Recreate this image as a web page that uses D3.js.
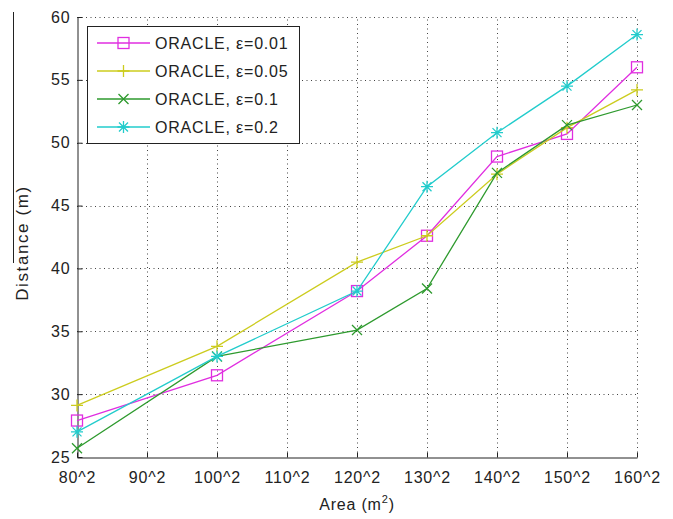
<!DOCTYPE html>
<html>
<head>
  <meta charset="UTF-8">
  <title>Distance vs Area</title>
  <script src="https://cdn.jsdelivr.net/npm/d3@7"></script>
  <style>
    body { margin: 0; background: #fff; }
    svg text { font-family: "Liberation Sans", Arial, sans-serif; fill: #222; letter-spacing: 0.8px; }
  </style>
</head>
<body>
  <div id="chart"></div>
  <script>
  // ---------------------------------------------------
  // data
  // ---------------------------------------------------
  var categories = ["80^2", "90^2", "100^2", "110^2", "120^2", "130^2", "140^2", "150^2", "160^2"];
  var sampled = ["80^2", "100^2", "120^2", "130^2", "140^2", "150^2", "160^2"];
  var yTicks = [25, 30, 35, 40, 45, 50, 55, 60];

  var eps001 = [27.9, 31.5, 38.2, 42.6, 48.9, 50.7, 56.0];
  var eps005 = [29.1, 33.8, 40.5, 42.6, 47.5, 51.2, 54.2];
  var eps01  = [25.7, 33.0, 35.1, 38.4, 47.6, 51.4, 53.0];
  var eps02  = [27.0, 33.0, 38.2, 46.5, 50.8, 54.5, 58.6];

  var series = [
    { name: "ORACLE, \u03b5=0.01", values: eps001, color: "#e02ee0", marker: "square" },
    { name: "ORACLE, \u03b5=0.05", values: eps005, color: "#cccc1e", marker: "plus" },
    { name: "ORACLE, \u03b5=0.1",  values: eps01,  color: "#2e9a2e", marker: "cross" },
    { name: "ORACLE, \u03b5=0.2",  values: eps02,  color: "#22cccc", marker: "star" }
  ];

  // ---------------------------------------------------
  // setup
  // ---------------------------------------------------
  var W = 673, H = 519;
  var plotL = 77, plotR = 637, plotT = 17, plotB = 457;

  var svg = d3.select("#chart").append("svg")
    .attr("width", W).attr("height", H);

  var x = d3.scalePoint().domain(categories).range([plotL, plotR]);
  var y = d3.scaleLinear().domain([25, 60]).range([plotB, plotT]);

  // grid
  var grid = svg.append("g").attr("stroke", "#444").attr("stroke-width", 1)
    .attr("stroke-dasharray", "1,3.5");
  grid.selectAll(".gx").data(categories.slice(1)).enter().append("line")
    .attr("x1", function (d) { return Math.round(x(d)) + 0.5; })
    .attr("x2", function (d) { return Math.round(x(d)) + 0.5; })
    .attr("y1", plotB).attr("y2", plotT);
  grid.selectAll(".gy").data(yTicks.slice(1)).enter().append("line")
    .attr("x1", plotL).attr("x2", plotR)
    .attr("y1", function (d) { return Math.round(y(d)) + 0.5; })
    .attr("y2", function (d) { return Math.round(y(d)) + 0.5; });

  // axes (ticks pointing inward)
  var xAxis = d3.axisBottom(x).tickSizeInner(-5).tickSizeOuter(0).tickPadding(14);
  var gx = svg.append("g").attr("transform", "translate(0," + (plotB + 0.5) + ")").call(xAxis);
  gx.select(".domain").attr("stroke", "#222");
  gx.selectAll(".tick line").attr("stroke", "#222");
  gx.selectAll("text").attr("font-size", 16).attr("fill", "#222");

  var yAxis = d3.axisLeft(y).tickValues(yTicks).tickSizeInner(-5).tickSizeOuter(0).tickPadding(7);
  var gy = svg.append("g").attr("transform", "translate(" + (plotL + 0.5) + ",0)").call(yAxis);
  gy.select(".domain").attr("stroke", "#222");
  gy.selectAll(".tick line").attr("stroke", "#222");
  gy.selectAll("text").attr("font-size", 16).attr("fill", "#222");

  // axis titles
  var xt = svg.append("text").attr("x", (plotL + plotR) / 2).attr("y", 510)
    .attr("text-anchor", "middle").attr("font-size", 16);
  xt.append("tspan").text("Area (m");
  xt.append("tspan").attr("dy", -7).attr("font-size", 11).text("2");
  xt.append("tspan").attr("dy", 7).text(")");

  svg.append("text")
    .attr("transform", "translate(28,243) rotate(-90)")
    .attr("text-anchor", "middle").attr("font-size", 17)
    .style("letter-spacing", "1.6px")
    .text("Distance (m)");

  // stray line at the far left
  svg.append("line").attr("x1", 13.5).attr("x2", 13.5).attr("y1", 12).attr("y2", 263)
    .attr("stroke", "#222");

  // ---------------------------------------------------
  // markers
  // ---------------------------------------------------
  function drawMarker(g, type, cx, cy, color) {
    var m = g.append("g").attr("transform", "translate(" + cx + "," + cy + ")")
      .attr("stroke", color).attr("fill", "none").attr("stroke-width", 1.3);
    if (type === "square") {
      m.append("rect").attr("x", -5.5).attr("y", -5.5).attr("width", 11).attr("height", 11);
    } else if (type === "plus") {
      m.append("path").attr("d", "M-6,0H6M0,-6V6");
    } else if (type === "cross") {
      m.append("path").attr("d", "M-5,-5L5,5M-5,5L5,-5");
    } else {
      m.append("path").attr("d", "M-6,0H6M0,-6V6M-4.5,-4.5L4.5,4.5M-4.5,4.5L4.5,-4.5");
    }
  }

  var line = d3.line()
    .x(function (d, i) { return x(sampled[i]); })
    .y(function (d) { return y(d); });

  series.forEach(function (s) {
    svg.append("path").datum(s.values)
      .attr("d", line).attr("fill", "none")
      .attr("stroke", s.color).attr("stroke-width", 1.3);
    var mg = svg.append("g");
    s.values.forEach(function (v, i) {
      drawMarker(mg, s.marker, x(sampled[i]), y(v), s.color);
    });
  });

  // ---------------------------------------------------
  // legend
  // ---------------------------------------------------
  var lg = svg.append("g");
  lg.append("rect").attr("x", 87.5).attr("y", 26.5).attr("width", 212).attr("height", 117)
    .attr("fill", "#fff").attr("stroke", "#222");
  series.forEach(function (s, i) {
    var ly = 43 + i * 28;
    lg.append("line").attr("x1", 97).attr("x2", 150).attr("y1", ly).attr("y2", ly)
      .attr("stroke", s.color).attr("stroke-width", 1.3);
    drawMarker(lg, s.marker, 123.5, ly, s.color);
    lg.append("text").attr("x", 155).attr("y", ly + 6).attr("font-size", 16).text(s.name);
  });
  </script>
</body>
</html>
